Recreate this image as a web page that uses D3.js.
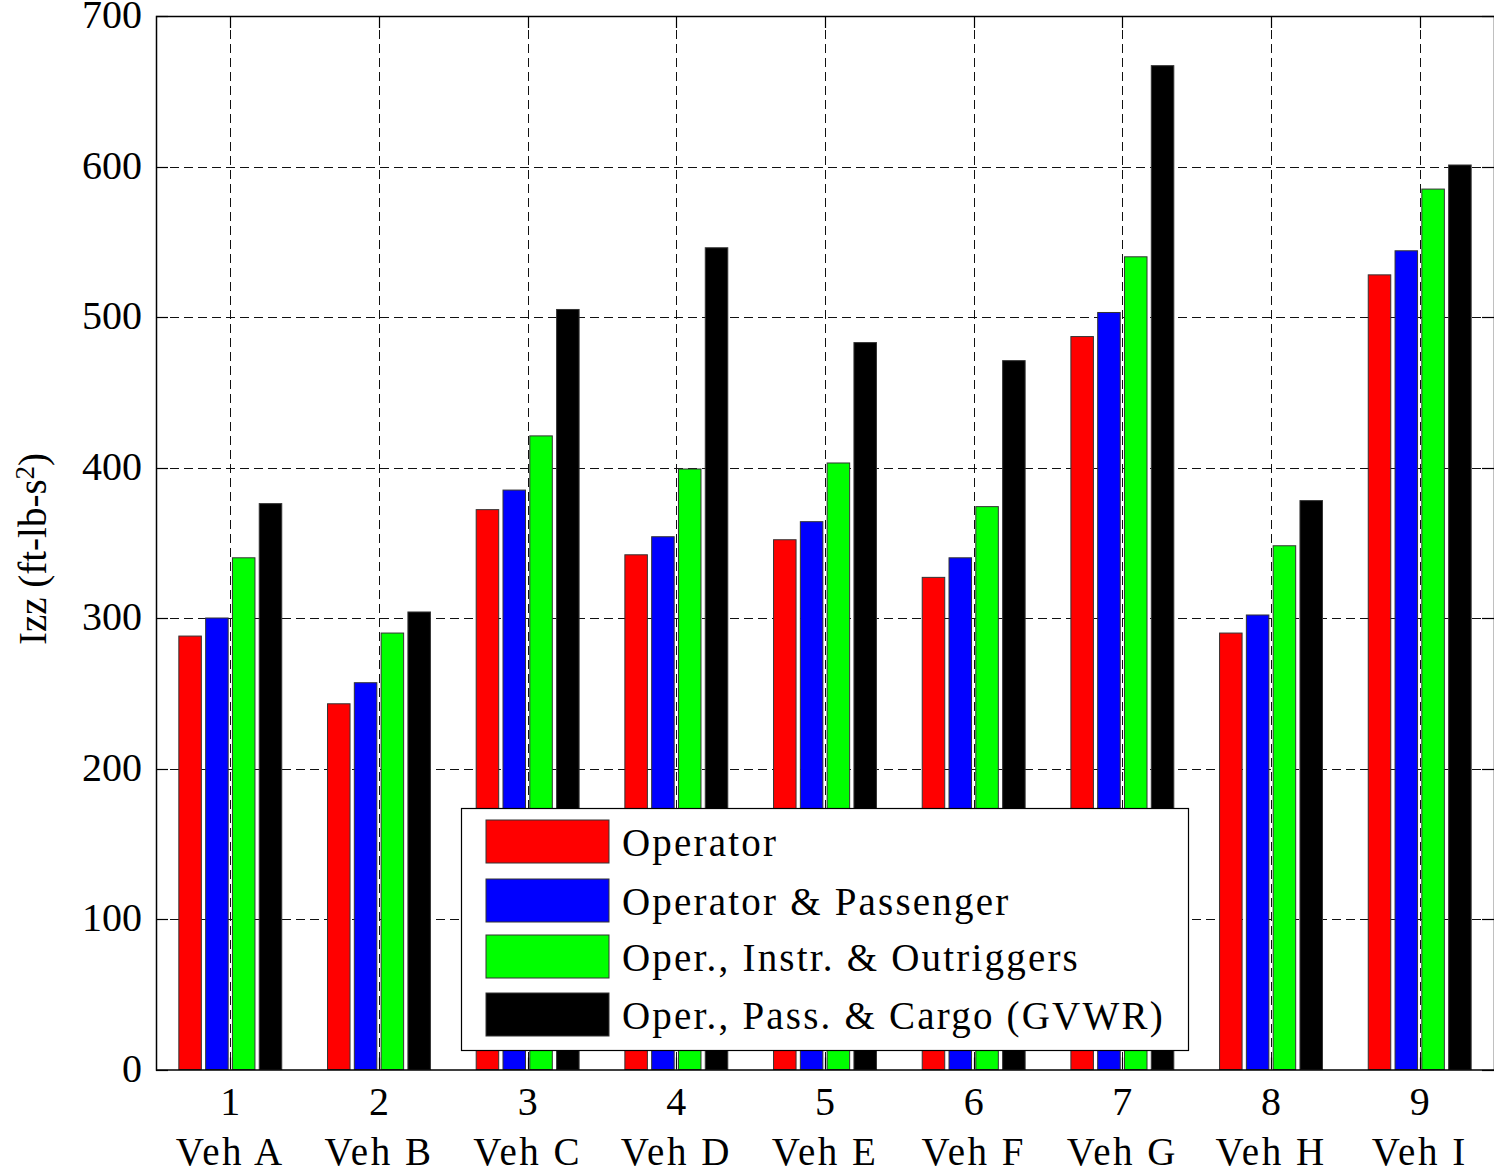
<!DOCTYPE html>
<html>
<head>
<meta charset="utf-8">
<script src="https://cdn.jsdelivr.net/npm/d3@7"></script>
<style>
  body { margin: 0; background: #fff; }
  svg { display: block; }
  text { font-family: "Liberation Serif", "Times New Roman", serif; fill: #000; }
</style>
</head>
<body>
<svg width="1494" height="1170"></svg>
<script>
// data
const vehNums = ["1", "2", "3", "4", "5", "6", "7", "8", "9"];
const vehNames = ["Veh A", "Veh B", "Veh C", "Veh D", "Veh E", "Veh F", "Veh G", "Veh H", "Veh I"];
const seriesNames = ["Operator", "Operator & Passenger", "Oper., Instr. & Outriggers", "Oper., Pass. & Cargo (GVWR)"];
const seriesColors = ["#ff0000", "#0000ff", "#00ff00", "#000000"];
const opOnly = [288, 243, 372, 342, 352, 327, 487, 290, 528];
const opPass = [300, 257, 385, 354, 364, 340, 503, 302, 544];
const opInstr = [340, 290, 421, 399, 403, 374, 540, 348, 585];
const opCargo = [376, 304, 505, 546, 483, 471, 667, 378, 601];
const yTicks = [0, 100, 200, 300, 400, 500, 600, 700];

const seriesValues = [opOnly, opPass, opInstr, opCargo];

// plot box
const pLeft = 156, pRight = 1494, pTop = 16, pBottom = 1069.5;

const svg = d3.select("svg");

const x = d3.scalePoint().domain(vehNums).range([pLeft + 74.3, pRight - 74.3]);
const x1 = d3.scaleBand().domain(d3.range(4)).range([-53.6, 53.6]).paddingInner(0.16).paddingOuter(0.08);
const y = d3.scaleLinear().domain([0, 700]).range([pBottom, pTop]);

// grid
const grid = svg.append("g")
    .attr("stroke", "#111")
    .attr("stroke-width", 1)
    .attr("stroke-dasharray", "9,5");
grid.selectAll("line.h")
    .data(yTicks.filter(t => t > 0 && t < 700))
    .join("line")
    .attr("class", "h")
    .attr("x1", pLeft).attr("x2", pRight)
    .attr("y1", d => Math.round(y(d)) + 0.5)
    .attr("y2", d => Math.round(y(d)) + 0.5);
grid.selectAll("line.v")
    .data(vehNums)
    .join("line")
    .attr("class", "v")
    .attr("x1", d => Math.round(x(d)) + 0.5)
    .attr("x2", d => Math.round(x(d)) + 0.5)
    .attr("y1", pTop).attr("y2", pBottom);

// bars
const groups = svg.append("g")
    .selectAll("g")
    .data(vehNums)
    .join("g")
    .attr("transform", d => `translate(${x(d)},0)`);

groups.selectAll("rect")
    .data((d, i) => seriesValues.map((s, k) => ({ k: k, v: s[i] })))
    .join("rect")
    .attr("x", d => x1(d.k))
    .attr("width", x1.bandwidth())
    .attr("y", d => y(d.v))
    .attr("height", d => y(0) - y(d.v))
    .attr("fill", d => seriesColors[d.k])
    .attr("stroke", "#333")
    .attr("stroke-width", 1);

// axes box
svg.append("rect")
    .attr("x", pLeft + 0.5).attr("y", pTop + 0.5)
    .attr("width", pRight - pLeft).attr("height", pBottom - pTop)
    .attr("fill", "none")
    .attr("stroke", "#000")
    .attr("stroke-width", 1.5);

// tick marks (inside, both sides)
const ticks = svg.append("g").attr("stroke", "#000").attr("stroke-width", 1.2);
yTicks.forEach(t => {
    const yy = Math.round(y(t)) + 0.5;
    ticks.append("line").attr("x1", pLeft).attr("x2", pLeft + 12).attr("y1", yy).attr("y2", yy);
    ticks.append("line").attr("x1", pRight - 12).attr("x2", pRight).attr("y1", yy).attr("y2", yy);
});
vehNums.forEach(v => {
    const xx = Math.round(x(v)) + 0.5;
    ticks.append("line").attr("x1", xx).attr("x2", xx).attr("y1", pBottom).attr("y2", pBottom - 12);
    ticks.append("line").attr("x1", xx).attr("x2", xx).attr("y1", pTop).attr("y2", pTop + 12);
});

// tick labels
svg.append("g").selectAll("text")
    .data(yTicks)
    .join("text")
    .attr("x", 142)
    .attr("y", d => y(d) + 12)
    .attr("text-anchor", "end")
    .style("font-size", "40px")
    .text(d => d);

svg.append("g").selectAll("text")
    .data(vehNums)
    .join("text")
    .attr("x", d => x(d))
    .attr("y", 1115)
    .attr("text-anchor", "middle")
    .style("font-size", "40px")
    .text(d => d);

svg.append("g").selectAll("text")
    .data(vehNames)
    .join("text")
    .attr("x", (d, i) => x(vehNums[i]))
    .attr("y", 1165)
    .attr("text-anchor", "middle")
    .style("font-size", "39px")
    .style("letter-spacing", "2.5px")
    .text(d => d);

// y label
const ylab = svg.append("text")
    .attr("transform", "translate(46,549) rotate(-90)")
    .attr("text-anchor", "middle")
    .style("font-size", "39px");
ylab.append("tspan").text("Izz (ft-lb-s");
ylab.append("tspan").attr("dy", "-0.45em").style("font-size", "27px").text("2");
ylab.append("tspan").attr("dy", "0.3em").text(")");

// legend
const lg = svg.append("g");
lg.append("rect")
    .attr("x", 461.5).attr("y", 808.5)
    .attr("width", 727).attr("height", 242)
    .attr("fill", "#fff")
    .attr("stroke", "#000")
    .attr("stroke-width", 1.2);

const rowY = [820, 879, 935, 993];
const item = lg.selectAll("g.item")
    .data(seriesNames)
    .join("g")
    .attr("class", "item")
    .attr("transform", (d, i) => `translate(486,${rowY[i]})`);
item.append("rect")
    .attr("width", 123).attr("height", 43)
    .attr("fill", (d, i) => seriesColors[i])
    .attr("stroke", "#333")
    .attr("stroke-width", 1);
item.append("text")
    .attr("x", 136)
    .attr("y", 36)
    .style("font-size", "39px")
    .style("letter-spacing", "2.2px")
    .text(d => d);
</script>
</body>
</html>
